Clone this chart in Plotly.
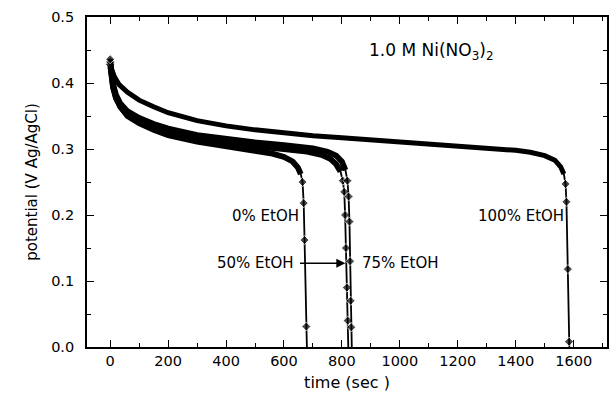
import plotly.graph_objects as go

# ---- data ----
t_0 = [0, 3, 10, 20, 35, 60, 100, 150, 200, 300, 400, 500, 560, 600, 630, 648, 658, 664, 668, 671, 677, 679]
v_0 = [0.430, 0.415, 0.395, 0.378, 0.364, 0.350, 0.339, 0.329, 0.321, 0.311, 0.303, 0.297, 0.293, 0.288, 0.281,
       0.272, 0.262, 0.250, 0.218, 0.162, 0.031, 0.0]

t_50 = [0, 3, 10, 20, 35, 60, 100, 150, 200, 300, 400, 500, 600, 680, 730, 760, 780, 795, 803, 808, 811, 814,
        817, 820, 822]
v_50 = [0.428, 0.412, 0.393, 0.377, 0.364, 0.351, 0.341, 0.332, 0.325, 0.315, 0.309, 0.304, 0.300, 0.296, 0.291,
        0.285, 0.277, 0.266, 0.252, 0.235, 0.200, 0.150, 0.090, 0.040, 0.0]

t_75 = [0, 3, 10, 20, 35, 60, 100, 150, 200, 300, 400, 500, 600, 700, 750, 780, 800, 812, 819, 823, 826, 828,
        830, 832, 834]
v_75 = [0.432, 0.417, 0.398, 0.382, 0.369, 0.357, 0.347, 0.338, 0.331, 0.321, 0.315, 0.310, 0.306, 0.301, 0.296,
        0.290, 0.281, 0.268, 0.252, 0.228, 0.190, 0.130, 0.070, 0.030, 0.0]

t_100 = [0, 5, 15, 30, 60, 100, 150, 200, 300, 400, 500, 600, 700, 800, 900, 1000, 1100, 1200, 1300, 1400, 1450,
         1500, 1535, 1555, 1566, 1572, 1575, 1580, 1584, 1585]
v_100 = [0.436, 0.421, 0.409, 0.398, 0.386, 0.374, 0.364, 0.355, 0.343, 0.335, 0.329, 0.324, 0.320, 0.317, 0.314,
         0.311, 0.308, 0.305, 0.302, 0.298, 0.295, 0.290, 0.283, 0.273, 0.262, 0.247, 0.220, 0.118, 0.008, 0.0]

series = [("0% EtOH", t_0, v_0), ("50% EtOH", t_50, v_50), ("75% EtOH", t_75, v_75), ("100% EtOH", t_100, v_100)]

x_ticks = [0, 200, 400, 600, 800, 1000, 1200, 1400, 1600]
y_ticks = [0.0, 0.1, 0.2, 0.3, 0.4, 0.5]
y_tick_text = ["0.0", "0.1", "0.2", "0.3", "0.4", "0.5"]

FONT = "DejaVu Sans"
fig = go.Figure()

for name, t, v in series:
    # thick plateau part (dense data points in the original)
    tp = [a for a, b in zip(t, v) if b >= 0.26]
    vp = [b for b in v if b >= 0.26]
    w = 5 if name == "100% EtOH" else 5.8
    fig.add_trace(go.Scatter(x=tp, y=vp, mode="lines", line=dict(color="black", width=w),
                             showlegend=False, hoverinfo="skip"))
    sizes = [7 if (i == 0 or (0.0 < b < 0.255)) else 0 for i, b in enumerate(v)]
    fig.add_trace(go.Scatter(x=t, y=v, mode="lines+markers", name=name,
                             line=dict(color="black", width=1.8),
                             marker=dict(symbol="diamond", size=sizes, color="black"),
                             showlegend=False))

axis_common = dict(showline=True, linecolor="black", linewidth=1.8, mirror="allticks",
                   ticks="inside", ticklen=7, tickwidth=1.3, tickcolor="black",
                   showgrid=False, zeroline=False,
                   tickfont=dict(family=FONT, size=14.5, color="black"))

fig.update_xaxes(range=[-80, 1715], tickvals=x_ticks, ticktext=[str(v) for v in x_ticks],
                 minor=dict(ticks="inside", dtick=100, tick0=0, ticklen=4, tickcolor="black", tickwidth=1.2),
                 title=dict(text="time (sec )", font=dict(family=FONT, size=16, color="black"), standoff=9),
                 **axis_common)
fig.update_yaxes(range=[0, 0.5], tickvals=y_ticks, ticktext=y_tick_text, ticklabelstandoff=8,
                 minor=dict(ticks="inside", dtick=0.05, tick0=0, ticklen=4, tickcolor="black", tickwidth=1.2),
                 title=dict(text="potential (V Ag/AgCl)", font=dict(family=FONT, size=15, color="black"), standoff=10),
                 **axis_common)

ann_font = dict(family=FONT, size=15, color="black")
fig.add_annotation(x=886, y=0.447, text="1.0 M Ni(NO<sub>3</sub>)<sub>2</sub>", showarrow=False,
                   xanchor="left", yanchor="middle", font=dict(family=FONT, size=17, color="black"))
fig.add_annotation(x=657, y=0.198, text="0% EtOH", showarrow=False, xanchor="right", yanchor="middle", font=ann_font)
fig.add_annotation(x=642, y=0.127, text="50% EtOH", showarrow=False, xanchor="right", yanchor="middle", font=ann_font)
fig.add_annotation(x=862, y=0.127, text="75% EtOH", showarrow=False, xanchor="left", yanchor="middle", font=ann_font)
fig.add_annotation(x=1262, y=0.198, text="100% EtOH", showarrow=False, xanchor="left", yanchor="middle", font=ann_font)
# arrow from "50% EtOH" to its curve
fig.add_annotation(x=812, y=0.127, ax=650, ay=0.127, xref="x", yref="y", axref="x", ayref="y",
                   text="", showarrow=True, arrowhead=2, arrowsize=1.3, arrowwidth=1.4, arrowcolor="black")

fig.update_layout(width=611, height=394, margin=dict(l=87, r=2, t=17, b=47),
                  paper_bgcolor="white", plot_bgcolor="white", showlegend=False)

fig.write_html("out.html")
